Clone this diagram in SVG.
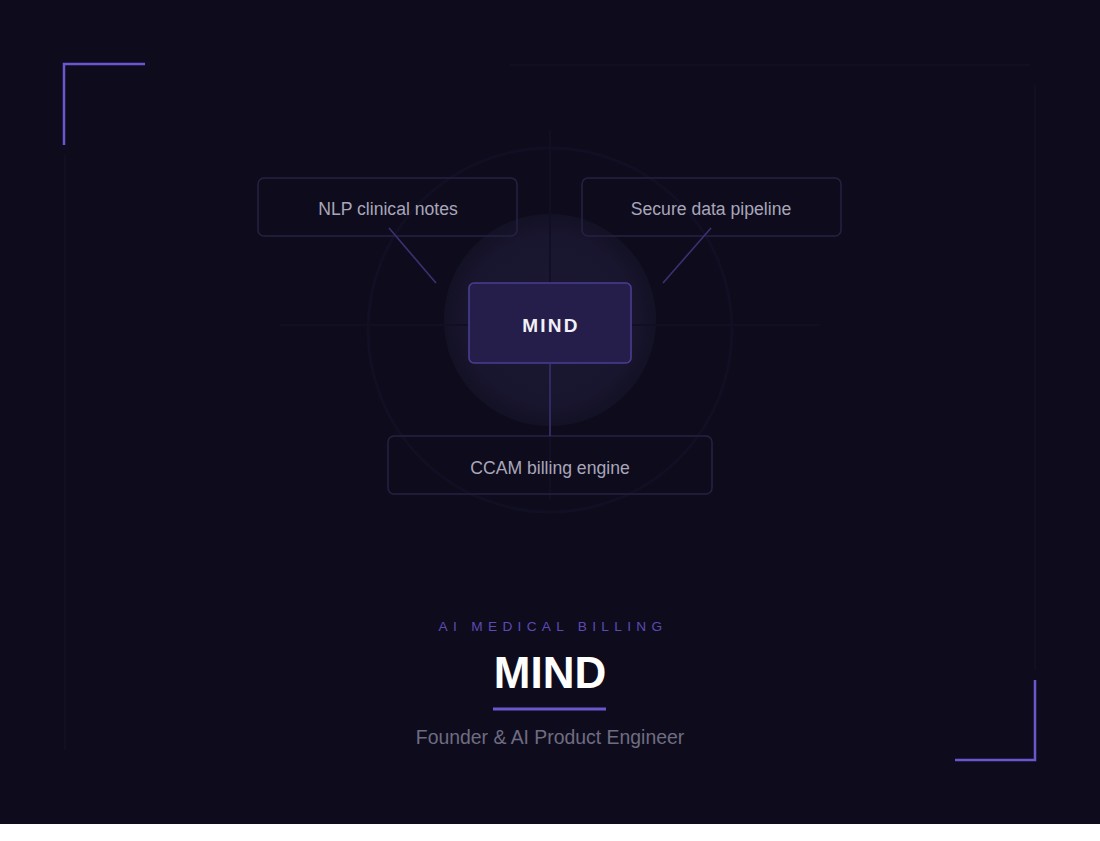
<svg xmlns="http://www.w3.org/2000/svg" width="1100" height="841" viewBox="0 0 1100 841">
<defs>
<radialGradient id="glow" cx="0.5" cy="0.5" r="0.5">
<stop offset="0" stop-color="#1c1834"/>
<stop offset="0.8" stop-color="#18152e"/>
<stop offset="1" stop-color="#131124"/>
</radialGradient>
<style>
.box{fill:none;stroke:#262143;stroke-width:1.5}
.lbl{font-family:"Liberation Sans",Arial,sans-serif;font-size:17.6px;fill:#a9a6ba;text-anchor:middle}
.conn{stroke:#3a3172;stroke-width:1.6;fill:none}
.corner{stroke:#6a56cf;stroke-width:2.5;fill:none}
.faint{stroke:#110f22;stroke-width:2;fill:none}
</style>
</defs>
<rect x="0" y="0" width="1100" height="841" fill="#ffffff"/>
<rect x="0" y="0" width="1100" height="824" fill="#0e0c1c"/>
<g id="decor">
<path class="faint" d="M65 155 V750 M510 65 H1030 M1035 85 V670"/>
<circle cx="550" cy="330" r="182" fill="none" stroke="#110f23" stroke-width="3"/>
<circle cx="550" cy="320" r="106" fill="url(#glow)"/>
<path d="M280 325 H820" stroke="#110f23" stroke-width="2"/>
<path d="M550 130 V500" stroke="#110f23" stroke-width="2"/>
</g>
<g id="node-nlp">
<rect class="box" x="258" y="178" width="259" height="58" rx="6"/>
<text class="lbl" x="388" y="215">NLP clinical notes</text>
</g>
<g id="node-secure">
<rect class="box" x="582" y="178" width="259" height="58" rx="6"/>
<text class="lbl" x="711" y="215">Secure data pipeline</text>
</g>
<g id="node-mind">
<rect x="469" y="283" width="162" height="80" rx="5" fill="#251e4a" stroke="#4a3e92" stroke-width="1.6"/>
<text x="551" y="332" font-family="Liberation Sans,Arial,sans-serif" font-size="19" font-weight="bold" letter-spacing="2.3" fill="#f2f1f7" text-anchor="middle">MIND</text>
</g>
<g id="node-ccam">
<rect class="box" x="388" y="436" width="324" height="58" rx="6"/>
<text class="lbl" x="550" y="474">CCAM billing engine</text>
</g>
<g id="connectors">
<line class="conn" x1="389" y1="228" x2="436" y2="283"/>
<line class="conn" x1="711" y1="228" x2="663" y2="283"/>
<line class="conn" x1="550" y1="364" x2="550" y2="436"/>
</g>
<g id="corners">
<path class="corner" d="M64 145 V64 H145"/>
<path class="corner" d="M1035 680 V760 H955"/>
</g>
<g id="title">
<text x="553" y="631" font-family="Liberation Sans,Arial,sans-serif" font-size="13.7" letter-spacing="5.3" fill="#5a4bb6" text-anchor="middle">AI MEDICAL BILLING</text>
<text x="550" y="688" font-family="Liberation Sans,Arial,sans-serif" font-size="44" font-weight="bold" fill="#ffffff" text-anchor="middle">MIND</text>
<line x1="493" y1="709" x2="606" y2="709" stroke="#6a56cf" stroke-width="3"/>
<text x="550" y="744" font-family="Liberation Sans,Arial,sans-serif" font-size="19.4" fill="#6f6c82" text-anchor="middle">Founder &amp; AI Product Engineer</text>
</g>
</svg>
